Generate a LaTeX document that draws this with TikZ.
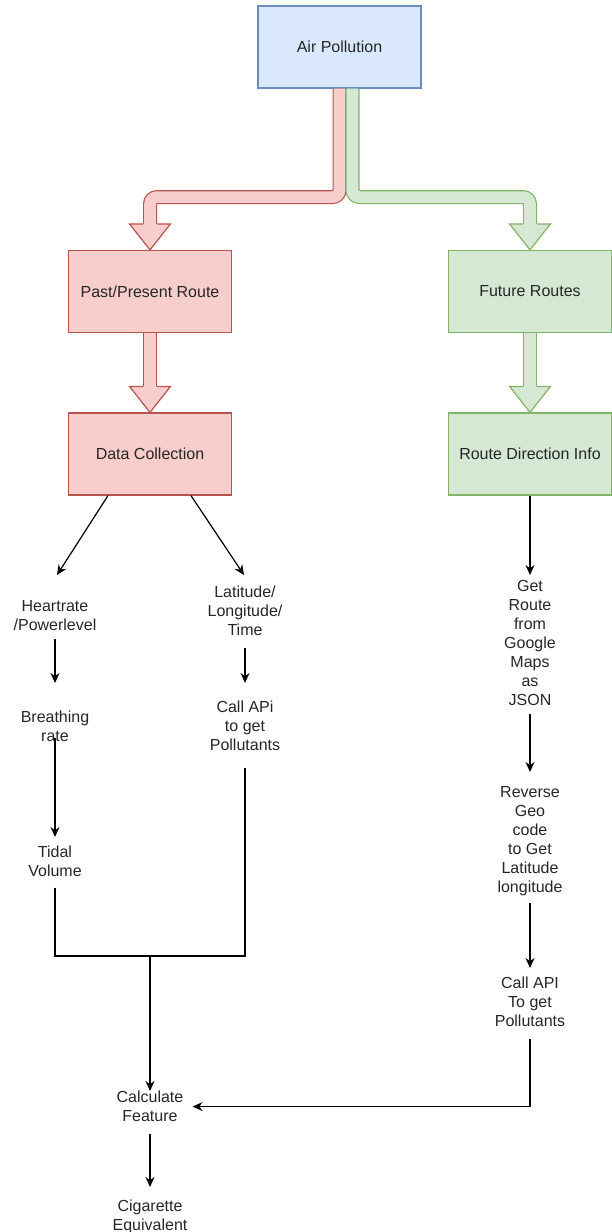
\documentclass[tikz,border=0pt]{standalone}
\usepackage{fontspec}
\setmainfont{Liberation Sans}
\usetikzlibrary{arrows.meta,positioning}

\definecolor{fillblue}{HTML}{DAE8FC}
\definecolor{lineblue}{HTML}{6C8EBF}
\definecolor{fillred}{HTML}{F8CECC}
\definecolor{linered}{HTML}{B85450}
\definecolor{fillgreen}{HTML}{D5E8D4}
\definecolor{linegreen}{HTML}{82B366}

\begin{document}
\begin{tikzpicture} [x=1pt,y=-1pt,every node/.style={font=\fontsize{16}{19}\selectfont,text=black!85,align=center},
  box/.style={rectangle,minimum width=163pt,minimum height=82pt,line width=1.2pt},
  txt/.style={anchor=north,inner sep=0pt},
  link/.style={line width=1.2pt,-{Stealth[length=10pt,width=9pt]}},
  fat/.style={line width=1.2pt,double distance=11.6pt,rounded corners=7pt,shorten >=25.5pt}]
\useasboundingbox (0,0) rectangle (611,1232);

\node[box,fill=fillblue,draw=lineblue] (AP) at (339.5,47) {Air Pollution};
\node[box,fill=fillred,draw=linered] (PP) at (150,291.5) {Past/Present Route};
\node[box,fill=fillgreen,draw=linegreen] (FR) at (530,291.5) {Future Routes};
\node[box,fill=fillred,draw=linered] (DC) at (150,454) {Data Collection};
\node[box,fill=fillgreen,draw=linegreen] (RD) at (530,454) {Route Direction Info};

\node[txt] (HR) at (55,600) {Heartrate\\/Powerlevel};
\node[txt] (LL) at (245,586) {Latitude/\\Longitude/\\Time};
\node[txt] (GR) at (530,580) {Get\\Route\\from\\Google\\Maps\\as\\JSON};
\node[txt] (BR) at (55,711) {Breathing\\rate};
\node[txt] (CA) at (245,701) {Call APi\\to get\\Pollutants};
\node[txt] (TV) at (55,846) {Tidal\\Volume};
\node[txt] (RG) at (530,786) {Reverse\\Geo\\code\\to Get\\Latitude\\longitude};
\node[txt] (CP) at (530,977) {Call API\\To get\\Pollutants};
\node[txt] (CF) at (150,1091) {Calculate\\Feature};
\node[txt] (CE) at (150,1200) {Cigarette\\Equivalent};
\coordinate (M) at (150,956);

% wide arrows
\draw[fat,draw=linered,double=fillred] (AP.south) -- ++(0,108.5) -| (PP.north);
\draw[fat,draw=linegreen,double=fillgreen] ([xshift=13pt]AP.south) -- ++(0,108.5) -| (FR.north);
\draw[fat,draw=linered,double=fillred] (PP.south) -- (DC.north);
\draw[fat,draw=linegreen,double=fillgreen] (FR.south) -- (RD.north);
\foreach \n/\c in {PP/red,DC/red,FR/green,RD/green}{
  \fill[fill\c] (\n.north) -- ++(-20.5,-26) -- ++(41,0) -- cycle;
  \draw[line\c,line width=1.2pt] (\n.north) ++(-7,-26) -- ++(-13.5,0) -- (\n.north) -- ++(20.5,-26) -- ++(-13.5,0);
}

% thin arrows
\draw[link] ([xshift=-42pt]DC.south) -- ([xshift=2pt,yshift=25pt]HR.north);
\draw[link] ([xshift=41pt]DC.south) -- ([xshift=-1pt,yshift=11pt]LL.north);
\foreach \from/\a/\to/\b in {RD/0/GR/5,HR/-8/BR/28,LL/-11.5/CA/18,GR/-8.5/RG/14,BR/4.5/TV/9,RG/-7/CP/9,CF/-11.5/CE/13}
  \draw[link] ([yshift=\a pt]\from.south) -- ([yshift=\b pt]\to.north);

\draw[link] ([yshift=-10.5pt]TV.south) |- (M) -- (CF.north);
\draw[line width=1.2pt] ([yshift=-16.5pt]CA.south) |- (M);
\draw[link] ([yshift=-11.5pt]CP.south) |- ([xshift=9pt]CF.east);
\end{tikzpicture}
\end{document}
